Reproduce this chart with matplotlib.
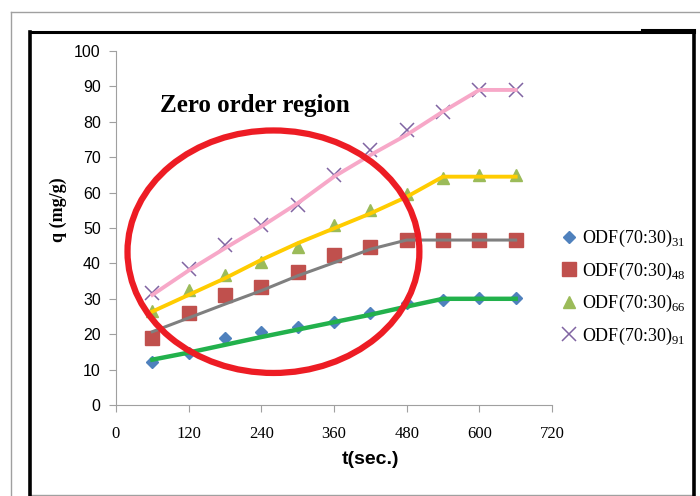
import matplotlib
matplotlib.use("Agg")
import matplotlib.pyplot as plt
from matplotlib.patches import Ellipse
from matplotlib.lines import Line2D

plt.rcParams['mathtext.fontset'] = 'custom'
plt.rcParams['mathtext.rm'] = 'Liberation Serif'

# time points (sec.)
t = [60, 120, 180, 240, 300, 360, 420, 480, 540, 600, 660]

# measured q (mg/g)
q31 = [12.2, 14.6, 18.8, 20.7, 22.1, 23.5, 25.9, 28.7, 29.7, 30.1, 30.1]
q48 = [19.0, 25.9, 31.1, 33.4, 37.7, 42.4, 44.7, 46.6, 46.6, 46.6, 46.6]
q66 = [26.5, 32.5, 36.7, 40.5, 44.7, 50.8, 55.1, 59.6, 64.0, 65.0, 65.0]
q91 = [31.5, 38.3, 45.2, 50.8, 56.5, 65.0, 72.0, 77.7, 82.9, 89.0, 89.0]

# trend lines drawn through each series
fit31 = [12.8, 14.8, 17.0, 19.2, 21.3, 23.4, 25.5, 27.8, 30.0, 30.0, 30.0]
fit48 = [20.7, 24.6, 28.5, 32.3, 36.5, 40.2, 44.0, 46.6, 46.6, 46.6, 46.6]
fit66 = [26.4, 31.1, 35.8, 41.0, 45.7, 49.9, 54.1, 58.8, 64.5, 64.5, 64.5]
fit91 = [31.1, 38.0, 44.3, 50.4, 57.0, 64.5, 70.6, 76.3, 82.9, 89.0, 89.0]

labels = [r'ODF(70:30)$_{31}$', r'ODF(70:30)$_{48}$',
          r'ODF(70:30)$_{66}$', r'ODF(70:30)$_{91}$']

W, H = 700, 496
fig = plt.figure(figsize=(7, 4.96), dpi=100)

def px(x, y):
    return x / W, 1 - y / H

# page frame: thin gray outer, thick black inner
fig.add_artist(Line2D([px(11, 0)[0], 1], [px(0, 12)[1]] * 2, color='#a0a0a0', lw=1))
fig.add_artist(Line2D([px(11, 0)[0]] * 2, [px(0, 12)[1], 0], color='#a0a0a0', lw=1))
fig.add_artist(Line2D([px(30, 0)[0], px(694, 0)[0]], [px(0, 495)[1]] * 2, color='#a0a0a0', lw=1))
fig.add_artist(Line2D([px(30, 0)[0], px(694, 0)[0]], [px(0, 32)[1]] * 2, color='black', lw=2.2))
fig.add_artist(Line2D([px(30, 0)[0]] * 2, [px(0, 32)[1], 0], color='black', lw=2.6))
fig.add_artist(Line2D([px(694, 0)[0]] * 2, [px(0, 32)[1], 0], color='black', lw=2.6))
fig.add_artist(Line2D([px(642, 0)[0], px(694, 0)[0]], [px(0, 30)[1]] * 2, color='black', lw=2.2))

ax = fig.add_axes([116 / W, 1 - 405 / H, (552 - 116) / W, (405 - 51) / H])

ax.plot(t, q31, linestyle='none', marker='D', ms=6.5, color='#4f81bd', label=labels[0], zorder=3)
ax.plot(t, q48, linestyle='none', marker='s', ms=10, color='#c0504d', label=labels[1], zorder=3)
ax.plot(t, q66, linestyle='none', marker='^', ms=9, color='#9bbb59', label=labels[2], zorder=3)
ax.plot(t, q91, linestyle='none', marker='x', ms=10, mew=1.1, color='#8064a2', label=labels[3], zorder=3)

ax.plot(t, fit31, color='#22b14c', lw=3.2, zorder=4)
ax.plot(t, fit48, color='#7f7f7f', lw=2.2, zorder=4)
ax.plot(t, fit66, color='#ffcc00', lw=2.8, zorder=4)
ax.plot(t, fit91, color='#f7a8c8', lw=2.8, zorder=4)

ax.add_patch(Ellipse((260, 43.3), 482, 68.5, fill=False, edgecolor='#ed1c24', lw=4.5, zorder=5))
ax.text(72, 84.5, 'Zero order region', family='Liberation Serif', weight='bold',
        fontsize=18, va='center', ha='left', zorder=6)

ax.set_xlim(0, 720)
ax.set_ylim(0, 100)
ax.set_xticks(range(0, 721, 120))
ax.set_yticks(range(0, 101, 10))
for s in ['top', 'right']:
    ax.spines[s].set_visible(False)
for s in ['left', 'bottom']:
    ax.spines[s].set_color('#a0a0a0')
ax.tick_params(axis='both', direction='out', length=5, color='#a0a0a0')
ax.tick_params(axis='x', pad=10, labelsize=12)
ax.tick_params(axis='y', pad=6, labelsize=11.5)
for lab in ax.get_xticklabels():
    lab.set_family('Liberation Serif')
for lab in ax.get_yticklabels():
    lab.set_family('Liberation Sans')

fig.text(370 / W, 1 - 460 / H, 't(sec.)', family='Liberation Sans', weight='bold',
         fontsize=14, ha='center', va='center')
fig.text(58 / W, 1 - 210 / H, 'q (mg/g)', family='Liberation Serif', weight='bold',
         fontsize=13, ha='center', va='center', rotation=90)

ax.legend(loc='upper left', bbox_to_anchor=(553 / W, 1 - 221 / H), bbox_transform=fig.transFigure,
          frameon=False, prop={'family': 'Liberation Serif', 'size': 13}, handlelength=1.0,
          handletextpad=0.2, labelspacing=0.63, borderaxespad=0)

fig.savefig('out.png', dpi=100)
